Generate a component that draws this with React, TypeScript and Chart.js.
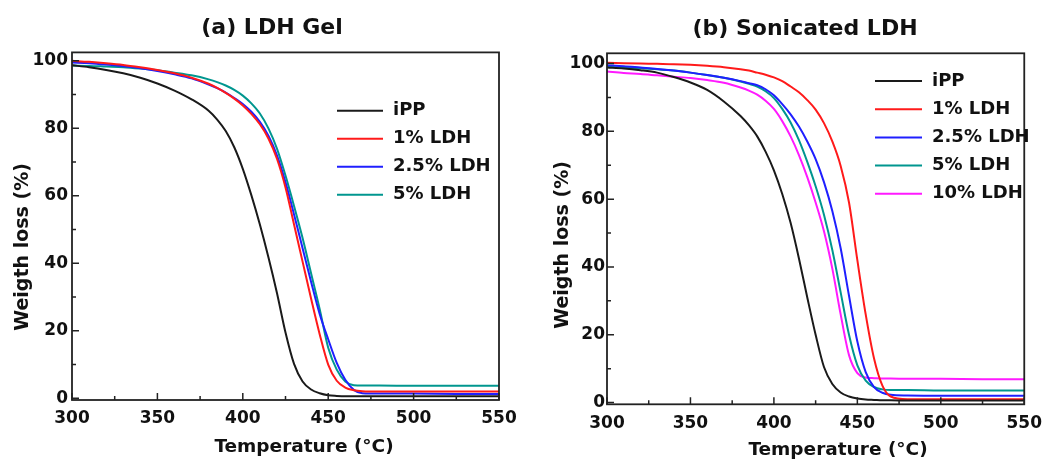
import React, { useEffect, useRef } from 'react';
import { Chart, registerables } from 'chart.js';

Chart.register(...registerables);

const FONT = "'DejaVu Sans', 'Liberation Sans', sans-serif";

const TEMPS = [300, 310, 320, 330, 340, 350, 360, 370, 380, 385, 390, 395, 400, 405, 410, 415, 420, 425, 430, 435, 440, 445, 450, 455, 460, 465, 470, 480, 500, 525, 550];
const X_TICKS = [300, 350, 400, 450, 500, 550];
const X_MINOR = [325, 375, 425, 475, 525];
const Y_TICKS = [0, 20, 40, 60, 80, 100];
const Y_MINOR = [10, 30, 50, 70, 90];

const LABELS_A = ['iPP', '1% LDH', '2.5% LDH', '5% LDH'];
const LABELS_B = ['iPP', '1% LDH', '2.5% LDH', '5% LDH', '10% LDH'];
const COLORS = ['#1a1a1a', '#ff1a1a', '#1f1fff', '#00968f', '#ff1aff'];

// (a) LDH Gel
const A_IPP = [98.7, 98.1, 97.3, 96.3, 95.0, 93.3, 91.2, 88.6, 85.2, 82.6, 79.2, 74.4, 68.0, 60.2, 51.5, 41.8, 31.2, 19.5, 10.2, 5.0, 2.6, 1.5, 0.9, 0.7, 0.6, 0.6, 0.6, 0.6, 0.6, 0.6, 0.6];
const A_LDH1 = [100.0, 99.7, 99.3, 98.8, 98.1, 97.3, 96.3, 95.0, 93.2, 92.0, 90.5, 88.8, 86.8, 84.3, 81.2, 77.0, 71.0, 62.5, 51.5, 40.5, 29.5, 19.0, 10.0, 5.2, 3.2, 2.4, 2.1, 2.0, 2.0, 2.0, 2.0];
const A_LDH25 = [99.5, 99.3, 98.9, 98.4, 97.8, 97.0, 96.0, 94.8, 93.0, 91.9, 90.6, 89.0, 87.2, 84.9, 81.9, 77.8, 72.0, 64.0, 54.5, 44.5, 34.5, 25.0, 17.5, 10.5, 5.5, 2.5, 1.5, 1.4, 1.4, 1.3, 1.3];
const A_LDH5 = [98.6, 98.5, 98.3, 98.1, 97.7, 97.2, 96.5, 95.7, 94.5, 93.7, 92.7, 91.4, 89.7, 87.4, 84.4, 80.0, 74.0, 66.0, 57.0, 47.5, 37.0, 26.5, 15.0, 8.5, 5.0, 3.9, 3.8, 3.8, 3.7, 3.7, 3.7];

// (b) Sonicated LDH
const B_IPP = [98.8, 98.5, 98.0, 97.3, 96.0, 94.4, 92.2, 88.8, 84.5, 81.8, 78.5, 74.0, 68.5, 61.5, 53.0, 42.5, 31.0, 20.0, 10.5, 5.5, 3.0, 1.8, 1.2, 0.9, 0.8, 0.7, 0.7, 0.6, 0.6, 0.6, 0.6];
const B_LDH1 = [100.2, 100.1, 100.0, 99.9, 99.8, 99.6, 99.3, 98.9, 98.3, 97.9, 97.3, 96.7, 95.9, 94.8, 93.2, 91.5, 89.2, 86.4, 82.4, 77.0, 69.8, 59.0, 42.0, 26.0, 13.0, 5.0, 1.8, 1.0, 1.0, 1.0, 1.0];
const B_LDH25 = [99.5, 99.2, 98.8, 98.4, 97.9, 97.3, 96.6, 95.8, 94.8, 94.2, 93.6, 92.4, 90.6, 88.0, 85.0, 81.4, 77.0, 71.8, 65.0, 56.5, 45.5, 31.5, 18.0, 9.0, 4.6, 2.9, 2.3, 2.1, 2.0, 2.0, 2.0];
const B_LDH5 = [99.0, 98.8, 98.6, 98.3, 97.9, 97.3, 96.6, 95.8, 94.7, 94.0, 93.2, 91.8, 89.8, 86.6, 82.6, 77.4, 71.0, 63.8, 55.4, 45.0, 32.5, 20.0, 11.0, 6.5, 4.6, 3.9, 3.7, 3.7, 3.6, 3.6, 3.6];
const B_LDH10 = [97.6, 97.2, 96.9, 96.5, 96.1, 95.7, 95.1, 94.3, 92.9, 92.0, 90.8, 89.0, 86.6, 83.0, 78.5, 73.0, 66.5, 59.0, 50.5, 39.5, 26.0, 14.0, 8.7, 7.4, 7.2, 7.1, 7.1, 7.0, 7.0, 6.9, 6.9];

const SERIES_A = [A_IPP, A_LDH1, A_LDH25, A_LDH5];
const SERIES_B = [B_IPP, B_LDH1, B_LDH25, B_LDH5, B_LDH10];

const decorPlugin = {
  id: 'decor',
  afterDatasetsDraw(chart: any, _args: any, o: any) {
    const { ctx, chartArea: a, scales } = chart;
    const xs = scales.x;
    const ys = scales.y;
    ctx.save();
    ctx.strokeStyle = '#222';
    ctx.lineWidth = 1.5;
    ctx.beginPath();
    X_TICKS.forEach((v) => { const p = xs.getPixelForValue(v); ctx.moveTo(p, a.bottom); ctx.lineTo(p, a.bottom - 7); });
    X_MINOR.forEach((v) => { const p = xs.getPixelForValue(v); ctx.moveTo(p, a.bottom); ctx.lineTo(p, a.bottom - 4); });
    Y_TICKS.forEach((v) => { const p = ys.getPixelForValue(v); ctx.moveTo(a.left, p); ctx.lineTo(a.left + 7, p); });
    Y_MINOR.forEach((v) => { const p = ys.getPixelForValue(v); ctx.moveTo(a.left, p); ctx.lineTo(a.left + 4, p); });
    ctx.stroke();
    ctx.lineWidth = 1.8;
    ctx.strokeRect(a.left, a.top, a.right - a.left, a.bottom - a.top);

    // legend
    ctx.textAlign = 'left';
    ctx.textBaseline = 'middle';
    ctx.font = `bold 18px ${FONT}`;
    chart.data.datasets.forEach((ds: any, i: number) => {
      const y = o.legendY + i * o.legendGap;
      ctx.strokeStyle = ds.borderColor;
      ctx.lineWidth = 2;
      ctx.beginPath();
      ctx.moveTo(o.legendX, y);
      ctx.lineTo(o.legendX + o.legendLen, y);
      ctx.stroke();
      ctx.fillStyle = '#111';
      ctx.fillText(ds.label, o.legendX + o.legendLen + 10, y);
    });

    // panel title
    ctx.textAlign = 'center';
    ctx.fillStyle = '#111';
    ctx.font = `bold 22px ${FONT}`;
    ctx.fillText(o.title, o.titleX, o.titleY);

    // x axis title
    ctx.font = `bold 18.5px ${FONT}`;
    ctx.fillText(o.xTitle, o.xTitleX, o.xTitleY);

    // y axis title
    ctx.font = `bold 19px ${FONT}`;
    ctx.translate(o.yTitleX, o.yTitleY);
    ctx.rotate(-Math.PI / 2);
    ctx.fillText(o.yTitle, 0, 0);
    ctx.restore();
  },
};

function makeConfig(p: any) {
  const tickFont = { family: FONT, size: 17, weight: 'bold' as const };
  return {
    type: 'line' as const,
    data: {
      datasets: p.series.map((s: number[], i: number) => ({
        label: p.labels[i],
        data: TEMPS.map((t, j) => ({ x: t, y: s[j] })),
        borderColor: COLORS[i],
        borderWidth: 2,
        pointRadius: 0,
        fill: false,
        cubicInterpolationMode: 'monotone',
      })),
    },
    options: {
      animation: false,
      responsive: false,
      devicePixelRatio: 1,
      layout: { padding: { left: 0, right: p.padRight, top: p.padTop, bottom: 0 } },
      plugins: {
        legend: { display: false },
        tooltip: { enabled: false },
        title: { display: false },
        decor: p.decor,
      },
      scales: {
        x: {
          type: 'linear',
          min: 300,
          max: 550,
          afterBuildTicks: (s: any) => { s.ticks = X_TICKS.map((v) => ({ value: v })); },
          afterFit: (s: any) => { s.height = p.xHeight; },
          grid: { display: false, drawTicks: false },
          border: { display: false },
          ticks: { padding: p.xPad, color: '#111', font: tickFont, maxRotation: 0, autoSkip: false },
        },
        y: {
          type: 'linear',
          min: -0.5,
          max: p.yMax,
          afterBuildTicks: (s: any) => { s.ticks = Y_TICKS.map((v) => ({ value: v })); },
          afterFit: (s: any) => { s.width = p.yWidth; },
          grid: { display: false, drawTicks: false },
          border: { display: false },
          ticks: { padding: p.yPad, color: '#111', font: tickFont, autoSkip: false },
        },
      },
    },
    plugins: [decorPlugin],
  };
}

const PANEL_A = {
  series: SERIES_A,
  labels: LABELS_A,
  padRight: 31,
  padTop: 52.4,
  xHeight: 60,
  yWidth: 72,
  xPad: 8,
  yPad: 4,
  yMax: 102.5,
  decor: {
    title: '(a) LDH Gel', titleX: 272, titleY: 28,
    xTitle: 'Temperature (°C)', xTitleX: 304, xTitleY: 447,
    yTitle: 'Weigth loss (%)', yTitleX: 23, yTitleY: 247,
    legendX: 337, legendY: 110.7, legendGap: 28, legendLen: 46,
  },
};

const PANEL_B = {
  series: SERIES_B,
  labels: LABELS_B,
  padRight: 18,
  padTop: 53.3,
  xHeight: 55.7,
  yWidth: 77,
  xPad: 9,
  yPad: 2,
  yMax: 103,
  decor: {
    title: '(b) Sonicated LDH', titleX: 275, titleY: 29,
    xTitle: 'Temperature (°C)', xTitleX: 308, xTitleY: 450,
    yTitle: 'Weigth loss (%)', yTitleX: 33, yTitleY: 245,
    legendX: 345, legendY: 81, legendGap: 28.2, legendLen: 47,
  },
};

function Panel({ cfg, width }: { cfg: any; width: number }) {
  const ref = useRef<HTMLCanvasElement | null>(null);
  useEffect(() => {
    if (!ref.current) return;
    const chart = new Chart(ref.current, makeConfig(cfg) as any);
    return () => chart.destroy();
  }, [cfg]);
  return <canvas ref={ref} width={width} height={460} style={{ display: 'block', width, height: 460 }} />;
}

export default function App() {
  return (
    <div style={{ position: 'absolute', left: 0, top: 0, width: 1051, height: 460, background: '#fff', display: 'flex' }}>
      <Panel cfg={PANEL_A} width={530} />
      <Panel cfg={PANEL_B} width={521} />
    </div>
  );
}
